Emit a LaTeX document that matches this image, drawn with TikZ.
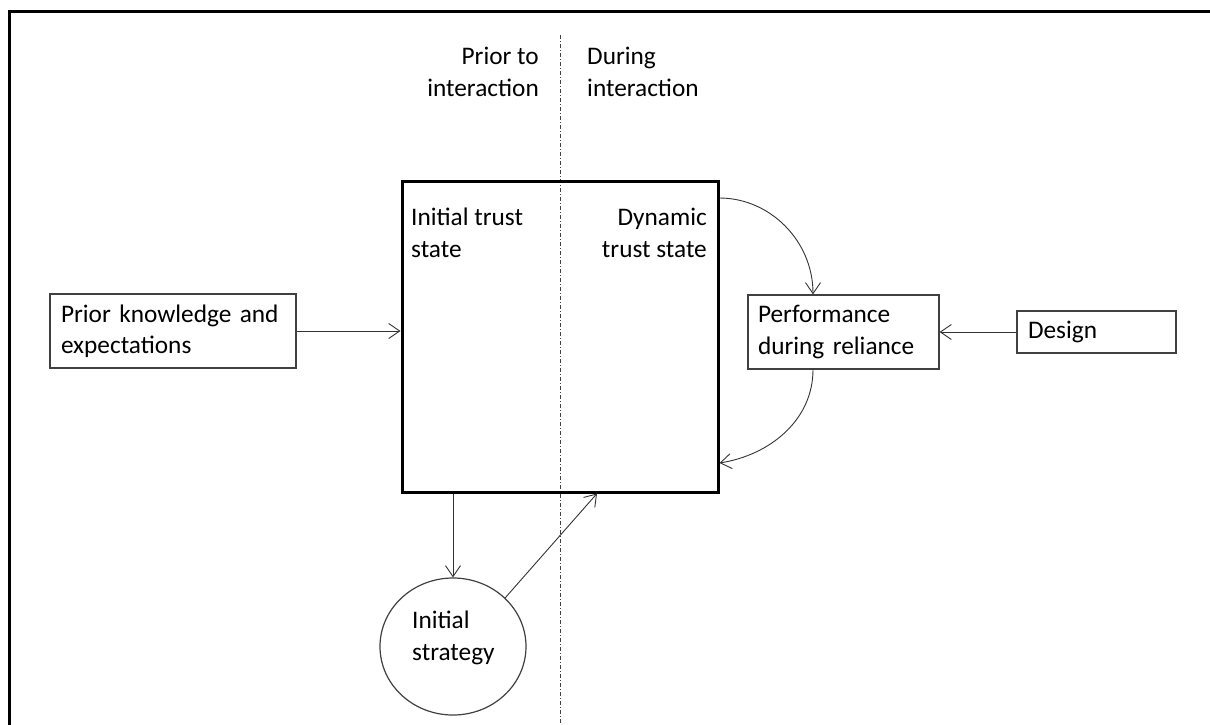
\documentclass[tikz,border=0pt]{standalone}
\usepackage{fontspec}
\setmainfont{Carlito}
\usetikzlibrary{arrows.meta,shapes.geometric}
\newcommand\diaglbl{\fontsize{25.3}{31.5}\selectfont}
\begin{document}
\begin{tikzpicture}[x=1pt,y=-1pt,
  conn/.style={draw=black!80, line width=0.9pt, -{Straight Barb[length=11pt,width=15pt,line width=0.9pt]}},
  box/.style={draw=black!75, line width=1.2pt, rectangle, inner ysep=0pt, align=left, font=\diaglbl},
  txt/.style={inner sep=0pt, font=\diaglbl}]
\useasboundingbox (0,0) rectangle (1210,724);
% frame
\draw[line width=3pt] (9.7,730) -- (9.7,11.3) -- (1215,11.3);
% divider
\draw[black!75, line width=0.8pt, dash pattern=on 4pt off 2pt on 1pt off 2pt] (560,35) -- (560,730);
% headers
\node[txt, anchor=base east, align=right] (prior) at (539,96) {Prior to\\interaction};
\node[txt, anchor=base west, align=left] (during) at (587,96) {During\\interaction};
% main box
\node[draw, line width=3pt, minimum width=316pt, minimum height=311pt, inner sep=0pt] (main) at (560,336.5) {};
\node[txt, anchor=base west, align=left] (its) at (411,257) {Initial trust\\state};
\node[txt, anchor=base east, align=right] (dts) at (707,257) {Dynamic\\trust state};
% boxes
\node[box, text width=224pt, inner xsep=11pt, minimum height=74pt] (know) at (173,331) {Prior knowledge and\\expectations};
\node[box, text width=171pt, inner xsep=10pt, minimum height=74pt] (perf) at (843.5,332) {Performance\\during reliance};
\node[box, text width=137pt, inner xsep=11pt, minimum height=42pt] (design) at (1096.5,332) {Design};
\node[ellipse, draw=black!75, line width=1.2pt, minimum width=146pt, minimum height=137pt, inner sep=0pt] (strat) at (453,646.5) {};
\node[txt, anchor=base west, align=left] (stratlbl) at (412,660) {Initial\\strategy};
% connectors
\draw[conn] (know.east) -- (know.east -| main.west);
\draw[conn] (design.west) -- (perf.east);
\draw[conn] ([yshift=138.5pt]main.east) .. controls (770,198) and (813,241) .. ([xshift=-30.5pt]perf.north);
\draw[conn] ([xshift=-30.5pt]perf.south) .. controls (813,420) and (770,455) .. ([yshift=-126.5pt]main.east);
\draw[conn] (strat.north |- main.south) -- (strat.north);
\draw[conn] (strat.43) -- ([xshift=37pt]main.south);
\end{tikzpicture}
\end{document}
